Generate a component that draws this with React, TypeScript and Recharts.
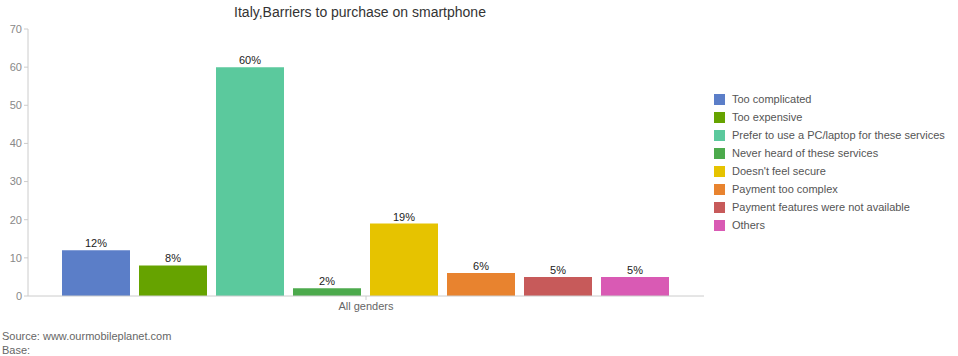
import React from 'react';
import { BarChart, Bar, XAxis, YAxis, LabelList } from 'recharts';

const categories = ['All genders'];
const seriesNames = [
  'Too complicated',
  'Too expensive',
  'Prefer to use a PC/laptop for these services',
  'Never heard of these services',
  "Doesn't feel secure",
  'Payment too complex',
  'Payment features were not available',
  'Others',
];
const seriesValues = [12, 8, 60, 2, 19, 6, 5, 5];
const seriesColors = ['#5b7ec8', '#66a300', '#5bc99d', '#4caa4c', '#e6c300', '#e8832f', '#c75a5a', '#d95ab4'];
const yTicks = [0, 10, 20, 30, 40, 50, 60, 70];
const title = 'Italy,Barriers to purchase on smartphone';
const sourceLines = ['Source: www.ourmobileplanet.com', 'Base:'];

const data = categories.map((c) => {
  const row: Record<string, any> = { name: c };
  seriesValues.forEach((v, i) => {
    row['s' + i] = v;
  });
  return row;
});

const font = '"Liberation Sans", Arial, Helvetica, sans-serif';

const renderValueLabel = (props: any) => {
  const { x, y, width, value } = props;
  return (
    <text x={Number(x) + Number(width) / 2} y={Number(y) - 3} textAnchor="middle" fill="#222" fontSize={11} fontFamily={font}>
      {value + '%'}
    </text>
  );
};

export default function App() {
  return (
    <div style={{ position: 'absolute', left: 0, top: 0, width: 958, height: 356, fontFamily: font, background: '#fff' }}>
      <div style={{ position: 'absolute', left: 0, width: 720, top: 4, textAlign: 'center', fontSize: 14, color: '#333' }}>
        {title}
      </div>
      <BarChart
        width={958}
        height={356}
        data={data}
        margin={{ top: 29, right: 254, bottom: 30, left: 0 }}
        barCategoryGap={34}
        barGap={9}
      >
        <XAxis
          dataKey="name"
          stroke="#ccc"
          tick={{ fill: '#666', fontSize: 11, fontFamily: font }}
          tickSize={4}
          height={30}
        />
        <YAxis
          width={28}
          domain={[0, 70]}
          ticks={yTicks}
          stroke="#ccc"
          tick={{ fill: '#888', fontSize: 11, fontFamily: font }}
          tickSize={4}
          interval={0}
        />
        {seriesNames.map((n, i) => (
          <Bar key={n} dataKey={'s' + i} name={n} fill={seriesColors[i]} isAnimationActive={false}>
            <LabelList dataKey={'s' + i} content={renderValueLabel} />
          </Bar>
        ))}
      </BarChart>
      <div style={{ position: 'absolute', left: 714, top: 90, fontSize: 11, color: '#555' }}>
        {seriesNames.map((n, i) => (
          <div key={n} style={{ display: 'flex', alignItems: 'center', height: 18 }}>
            <div style={{ width: 11, height: 11, background: seriesColors[i], marginRight: 7 }} />
            <span>{n}</span>
          </div>
        ))}
      </div>
      <div style={{ position: 'absolute', left: 2, top: 329, fontSize: 11, color: '#666', lineHeight: '14px' }}>
        {sourceLines.map((l) => (
          <div key={l}>{l}</div>
        ))}
      </div>
    </div>
  );
}
